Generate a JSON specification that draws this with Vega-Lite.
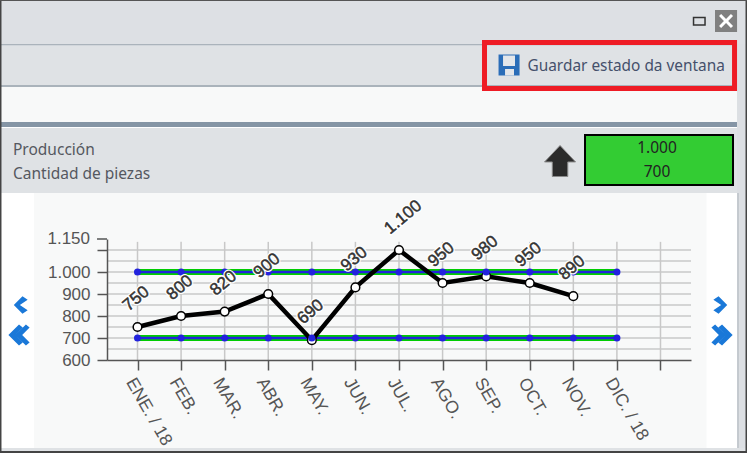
{"$schema":"https://vega.github.io/schema/vega-lite/v6.json","width":584,"height":121,"autosize":{"type":"none"},"padding":{"left":107,"top":239,"right":56,"bottom":93},"background":"#ffffff","config":{"view":{"stroke":null}},
"datasets":{"produccion":[
{"mes":"ENE. / 18","produccion":750,"etiqueta":"750","superior":1000,"inferior":700},
{"mes":"FEB.","produccion":800,"etiqueta":"800","superior":1000,"inferior":700},
{"mes":"MAR.","produccion":820,"etiqueta":"820","superior":1000,"inferior":700},
{"mes":"ABR.","produccion":900,"etiqueta":"900","superior":1000,"inferior":700},
{"mes":"MAY.","produccion":690,"etiqueta":"690","superior":1000,"inferior":700},
{"mes":"JUN.","produccion":930,"etiqueta":"930","superior":1000,"inferior":700},
{"mes":"JUL.","produccion":1100,"etiqueta":"1.100","superior":1000,"inferior":700},
{"mes":"AGO.","produccion":950,"etiqueta":"950","superior":1000,"inferior":700},
{"mes":"SEP.","produccion":980,"etiqueta":"980","superior":1000,"inferior":700},
{"mes":"OCT.","produccion":950,"etiqueta":"950","superior":1000,"inferior":700},
{"mes":"NOV.","produccion":890,"etiqueta":"890","superior":1000,"inferior":700},
{"mes":"DIC. / 18","produccion":null,"etiqueta":null,"superior":1000,"inferior":700},
{"mes":" ","produccion":null,"etiqueta":null,"superior":null,"inferior":null}],
"reticula":[{"v":650},{"v":700},{"v":750},{"v":800},{"v":850},{"v":900},{"v":950},{"v":1000},{"v":1050},{"v":1100}]},
"resolve":{"scale":{"x":"independent"},"axis":{"x":"independent"}},
"layer":[
{"data":{"values":[{}]},"layer":[
{"mark":{"type":"rect","color":"#dde0e4"},"encoding":{"x":{"datum":-3.155,"type":"quantitative","scale":{"domain":[-0.7,12.7],"nice":false,"zero":false},"axis":null},"x2":{"datum":13.986},"y":{"datum":2236.4,"type":"quantitative","scale":{"domain":[600,1150],"nice":false,"zero":false},"axis":{"orient":"left","zindex":1,"ticks":true,"tickCount":11,"values":[600,650,700,750,800,850,900,950,1000,1050,1100,1150],"labelExpr":"datum.value==1000?'1.000':(datum.value==600||datum.value==700||datum.value==800||datum.value==900)?format(datum.value,'d'):''","labelBound":false,"labelFlush":false,"grid":false,"title":null,"labelFont":"Liberation Sans","labelFontSize":17,"labelColor":"#555555","labelPadding":7,"tickSize":10,"tickColor":"#555555","tickWidth":1.5,"domainColor":"#555555","domainWidth":1.5,"labelOverlap":false}},"y2":{"datum":1359.1}}},
{"mark":{"type":"rect","color":"#aab3bb"},"encoding":{"x":{"datum":-3.155},"x2":{"datum":13.757},"y":{"datum":2036.4},"y2":{"datum":2029.5}}},
{"mark":{"type":"rect","color":"#dfe2e5"},"encoding":{"x":{"datum":-3.155},"x2":{"datum":13.757},"y":{"datum":2029.5},"y2":{"datum":1850}}},
{"mark":{"type":"rect","color":"#aab3bb"},"encoding":{"x":{"datum":-3.155},"x2":{"datum":13.757},"y":{"datum":1850},"y2":{"datum":1840.9}}},
{"mark":{"type":"rect","color":"#f8f9f9"},"encoding":{"x":{"datum":-3.155},"x2":{"datum":13.757},"y":{"datum":1840.9},"y2":{"datum":1681.8}}},
{"mark":{"type":"rect","color":"#8595a5"},"encoding":{"x":{"datum":-3.155},"x2":{"datum":13.757},"y":{"datum":1681.8},"y2":{"datum":1659.1}}},
{"mark":{"type":"rect","color":"#ffffff"},"encoding":{"x":{"datum":-3.155},"x2":{"datum":13.757},"y":{"datum":1659.1},"y2":{"datum":1654.5}}},
{"mark":{"type":"rect","color":"#dfe2e5"},"encoding":{"x":{"datum":-3.155},"x2":{"datum":13.757},"y":{"datum":1654.5},"y2":{"datum":1359.1}}},
{"mark":{"type":"rect","color":"#dcdfe3"},"encoding":{"x":{"datum":13.757},"x2":{"datum":13.986},"y":{"datum":2036.4},"y2":{"datum":177.3}}},
{"mark":{"type":"rect","color":"#c4c9ce"},"encoding":{"x":{"datum":13.757},"x2":{"datum":13.802},"y":{"datum":1359.1},"y2":{"datum":200}}},
{"mark":{"type":"rect","color":"#f8f9f9"},"encoding":{"x":{"datum":-2.375},"x2":{"datum":13.056},"y":{"datum":1359.1},"y2":{"datum":200}}},
{"mark":{"type":"rect","color":"#dfe2e5"},"encoding":{"x":{"datum":-3.155},"x2":{"datum":13.986},"y":{"datum":200},"y2":{"datum":177.3}}},
{"mark":{"type":"rect","color":"#444444"},"encoding":{"x":{"datum":-3.155},"x2":{"datum":13.986},"y":{"datum":186.4},"y2":{"datum":177.3}}},
{"mark":{"type":"rect","color":"#444444"},"encoding":{"x":{"datum":-3.155},"x2":{"datum":-3.121},"y":{"datum":2236.4},"y2":{"datum":177.3}}},
{"mark":{"type":"rect","color":"#444444"},"encoding":{"x":{"datum":13.951},"x2":{"datum":13.986},"y":{"datum":2236.4},"y2":{"datum":177.3}}},
{"mark":{"type":"rect","color":"#555555"},"encoding":{"x":{"datum":-3.155},"x2":{"datum":13.986},"y":{"datum":2236.4},"y2":{"datum":2231.8}}},
{"mark":{"type":"rect","fill":null,"stroke":"#ee1c25","strokeWidth":5},"encoding":{"x":{"datum":7.962},"x2":{"datum":13.699},"y":{"datum":2043.2},"y2":{"datum":1834.1}}},
{"mark":{"type":"rect","fill":"#33cc33","stroke":"#000000","strokeWidth":2},"encoding":{"x":{"datum":10.268},"x2":{"datum":13.664},"y":{"datum":1622.7},"y2":{"datum":1395.5}}},
{"mark":{"type":"rect","fill":null,"stroke":"#333333","strokeWidth":1.5},"encoding":{"x":{"datum":12.758},"x2":{"datum":13.022},"y":{"datum":2156.8},"y2":{"datum":2122.7}}},
{"mark":{"type":"rect","color":"#808080"},"encoding":{"x":{"datum":13.251},"x2":{"datum":13.757},"y":{"datum":2190.9},"y2":{"datum":2090.9}}},
{"mark":{"type":"point","shape":"M-1,-0.7 L-0.7,-1 L0,-0.3 L0.7,-1 L1,-0.7 L0.3,0 L1,0.7 L0.7,1 L0,0.3 L-0.7,1 L-1,0.7 L-0.3,0 Z","filled":true,"opacity":1,"color":"#ffffff","size":196},"encoding":{"x":{"datum":13.504},"y":{"datum":2140.9}}},
{"mark":{"type":"rect","color":"#2a6db8"},"encoding":{"x":{"datum":8.284},"x2":{"datum":8.766},"y":{"datum":1988.6},"y2":{"datum":1893.2}}},
{"mark":{"type":"rect","color":"#e3e6ea"},"encoding":{"x":{"datum":8.387},"x2":{"datum":8.662},"y":{"datum":1984.1},"y2":{"datum":1936.4}}},
{"mark":{"type":"rect","color":"#e3e6ea"},"encoding":{"x":{"datum":8.433},"x2":{"datum":8.639},"y":{"datum":1922.7},"y2":{"datum":1893.2}}},
{"mark":{"type":"text","align":"left","baseline":"middle","font":"Noto Sans","fontSize":15.4,"color":"#45506b"},"encoding":{"x":{"datum":8.949},"y":{"datum":1936.4},"text":{"value":"Guardar estado da ventana"}}},
{"mark":{"type":"text","align":"left","baseline":"middle","font":"Noto Sans","fontSize":15.5,"color":"#55585f"},"encoding":{"x":{"datum":-2.857},"y":{"datum":1554.5},"text":{"value":"Producción"}}},
{"mark":{"type":"text","align":"left","baseline":"middle","font":"Noto Sans","fontSize":15.5,"color":"#55585f"},"encoding":{"x":{"datum":-2.857},"y":{"datum":1445.5},"text":{"value":"Cantidad de piezas"}}},
{"mark":{"type":"text","align":"center","baseline":"middle","font":"Noto Sans","fontSize":15.5,"color":"#222222"},"encoding":{"x":{"datum":11.921},"y":{"datum":1563.6},"text":{"value":"1.000"}}},
{"mark":{"type":"text","align":"center","baseline":"middle","font":"Noto Sans","fontSize":15.5,"color":"#222222"},"encoding":{"x":{"datum":11.921},"y":{"datum":1454.5},"text":{"value":"700"}}},
{"mark":{"type":"point","shape":"M0,-1 L1,0.06 L0.5,0.06 L0.5,1 L-0.5,1 L-0.5,0.06 L-1,0.06 Z","filled":true,"opacity":1,"color":"#2b2b2b","stroke":"#8a8a8a","strokeWidth":1,"size":961},"encoding":{"x":{"datum":9.695},"y":{"datum":1504.5}}},
{"mark":{"type":"point","shape":"M0.4,-1 L-0.6,0 L0.4,1 L1,0.6 L0.1,0 L1,-0.6 Z","filled":true,"opacity":1,"color":"#1a78d8","size":300},"encoding":{"x":{"datum":-2.719},"y":{"datum":850}}},
{"mark":{"type":"point","shape":"M0,-1 L-1,0 L0,1 L0.35,0.7 L-0.35,0 L0.35,-0.7 Z M0.65,-1 L-0.35,0 L0.65,1 L1,0.7 L0.3,0 L1,-0.7 Z","filled":true,"opacity":1,"color":"#1a78d8","size":450},"encoding":{"x":{"datum":-2.719},"y":{"datum":713.6}}},
{"mark":{"type":"point","shape":"M-0.4,-1 L0.6,0 L-0.4,1 L-1,0.6 L-0.1,0 L-1,-0.6 Z","filled":true,"opacity":1,"color":"#1a78d8","size":300},"encoding":{"x":{"datum":13.412},"y":{"datum":850}}},
{"mark":{"type":"point","shape":"M0,-1 L1,0 L0,1 L-0.35,0.7 L0.35,0 L-0.35,-0.7 Z M-0.65,-1 L0.35,0 L-0.65,1 L-1,0.7 L-0.3,0 L-1,-0.7 Z","filled":true,"opacity":1,"color":"#1a78d8","size":450},"encoding":{"x":{"datum":13.412},"y":{"datum":713.6}}},
{"mark":{"type":"text","align":"right","baseline":"middle","font":"Liberation Sans","fontSize":17,"color":"#555555"},"encoding":{"x":{"datum":-1.09},"y":{"datum":1150},"text":{"value":"1.150"}}},
{"mark":{"type":"rule","color":"#555555","strokeWidth":1.5},"encoding":{"x":{"datum":-0.929},"x2":{"datum":-0.7},"y":{"datum":1150}}}
]},
{"data":{"name":"produccion"},"layer":[
{"mark":{"type":"rule","color":"#c8c8c8","strokeWidth":1.5},"encoding":{"x":{"field":"mes","type":"nominal","scale":{"type":"point","padding":0.7,"domain":["ENE. / 18","FEB.","MAR.","ABR.","MAY.","JUN.","JUL.","AGO.","SEP.","OCT.","NOV.","DIC. / 18"," "]},"sort":null,"title":null,"axis":{"orient":"bottom","zindex":1,"grid":false,"title":null,"labelAngle":60,"labelAlign":"left","labelBaseline":"middle","labelFont":"Liberation Sans","labelFontSize":17.5,"labelColor":"#555555","labelPadding":9,"labelOffset":-8,"labelOverlap":false,"tickSize":10,"tickColor":"#555555","tickWidth":1.5,"domainColor":"#555555","domainWidth":1.5}},"y":{"datum":1137},"y2":{"datum":600}}},
{"data":{"name":"reticula"},"mark":{"type":"rule","color":"#c8c8c8","strokeWidth":1.5},"encoding":{"y":{"field":"v","type":"quantitative"}}},
{"mark":{"type":"line","color":"#00cc00","strokeWidth":6},"encoding":{"x":{"field":"mes","type":"nominal"},"y":{"field":"superior","type":"quantitative"}}},
{"mark":{"type":"line","color":"#00cc00","strokeWidth":6},"encoding":{"x":{"field":"mes","type":"nominal"},"y":{"field":"inferior","type":"quantitative"}}},
{"mark":{"type":"line","color":"#2222dd","strokeWidth":2.5},"encoding":{"x":{"field":"mes","type":"nominal"},"y":{"field":"superior","type":"quantitative"}}},
{"mark":{"type":"line","color":"#2222dd","strokeWidth":2.5},"encoding":{"x":{"field":"mes","type":"nominal"},"y":{"field":"inferior","type":"quantitative"}}},
{"mark":{"type":"line","color":"#000000","strokeWidth":4.5},"encoding":{"x":{"field":"mes","type":"nominal"},"y":{"field":"produccion","type":"quantitative"}}},
{"mark":{"type":"point","filled":true,"opacity":1,"fill":"#ffffff","stroke":"#000000","strokeWidth":1.5,"size":75},"encoding":{"x":{"field":"mes","type":"nominal"},"y":{"field":"produccion","type":"quantitative"}}},
{"mark":{"type":"point","filled":true,"opacity":1,"color":"#2222dd","size":50},"encoding":{"x":{"field":"mes","type":"nominal"},"y":{"field":"superior","type":"quantitative"}}},
{"mark":{"type":"point","filled":true,"opacity":1,"color":"#2222dd","size":50},"encoding":{"x":{"field":"mes","type":"nominal"},"y":{"field":"inferior","type":"quantitative"}}},
{"mark":{"type":"text","align":"left","baseline":"middle","angle":-40,"dx":3,"dy":-22.5,"font":"Liberation Sans","fontSize":17,"stroke":"#ffffff","strokeWidth":3,"fill":"#ffffff"},"encoding":{"x":{"field":"mes","type":"nominal"},"y":{"field":"produccion","type":"quantitative"},"text":{"field":"etiqueta"}}},
{"mark":{"type":"text","align":"left","baseline":"middle","angle":-40,"dx":3,"dy":-22.5,"font":"Liberation Sans","fontSize":17,"stroke":"#333333","strokeWidth":0.5,"fill":"#333333"},"encoding":{"x":{"field":"mes","type":"nominal"},"y":{"field":"produccion","type":"quantitative"},"text":{"field":"etiqueta"}}}
]}
]}
